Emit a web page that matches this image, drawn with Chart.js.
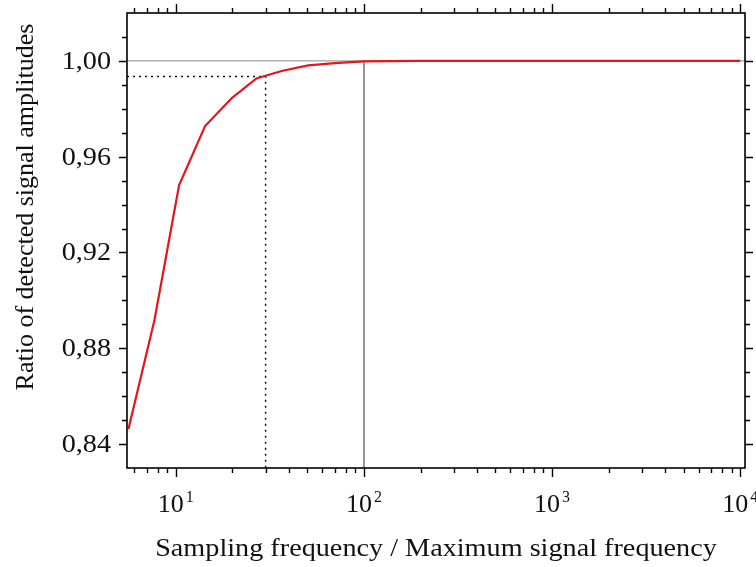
<!DOCTYPE html>
<html>
<head>
<meta charset="utf-8">
<script src="https://cdn.jsdelivr.net/npm/chart.js@4/dist/chart.umd.min.js"></script>
<style>
html,body{margin:0;padding:0;background:#fff;}
#wrap{width:756px;height:567px;}
</style>
</head>
<body>
<div id="wrap"><canvas id="c" width="756" height="567"></canvas></div>
<script>
// ---- data ----
const ratioX = [5.6, 7.7, 10.4, 14.3, 19.9, 26.8, 36.5, 50.5, 70, 100, 140, 200, 500, 1000, 2000, 5000, 10000];
const ratioY = [0.8463, 0.8918, 0.948, 0.9728, 0.9846, 0.9927, 0.9958, 0.9981, 0.9991, 0.9998, 0.9999, 1.0, 1.0, 1.0, 1.0, 1.0, 1.0];
const markX = 30;          // dotted marker
const markY = 0.9935;
const unityY = 1.0;        // grey reference level
const refX = 100;          // grey vertical reference
const xMin = 5.5, xMax = 10600;
const yMin = 0.83, yMax = 1.02;
const yMajorTicks = [0.84, 0.88, 0.92, 0.96, 1.00];
const yTickLabels = ['0,84', '0,88', '0,92', '0,96', '1,00'];
const xDecades = [1, 2, 3, 4];
const xTitle = 'Sampling frequency / Maximum signal frequency';
const yTitle = 'Ratio of detected signal amplitudes';

const FONT = "'Liberation Serif','Times New Roman',serif";
const SX = 1.085; // horizontal stretch of the reference's lettering

const curve = ratioX.map((x, i) => ({x: x, y: ratioY[i]}));
const unityLine = [{x: xMin, y: unityY}, {x: xMax, y: unityY}];
const refLine = [{x: refX, y: unityY}, {x: refX, y: yMin}];
const markLine = [{x: xMin, y: markY}, {x: markX, y: markY}, {x: markX, y: yMin}];

function stretchedText(ctx, text, x, y, align) {
  ctx.save();
  ctx.translate(x, y);
  ctx.scale(SX, 1);
  ctx.textAlign = align;
  ctx.fillText(text, 0, 0);
  ctx.restore();
}

const framePlugin = {
  id: 'frame',
  afterDraw(chart) {
    const ctx = chart.ctx;
    const xs = chart.scales.x, ys = chart.scales.y;
    const a = chart.chartArea;
    ctx.save();
    ctx.strokeStyle = '#000';
    ctx.lineWidth = 1.6;
    ctx.strokeRect(a.left, a.top, a.right - a.left, a.bottom - a.top);
    ctx.lineWidth = 1.4;
    ctx.beginPath();
    // x ticks (bottom & top)
    for (let d = 0; d <= 4; d++) {
      for (let m = 1; m <= 9; m++) {
        const v = m * Math.pow(10, d);
        if (v < xMin || v > xMax) continue;
        const px = Math.round(xs.getPixelForValue(v)) + 0.5;
        const len = (m === 1) ? 9 : 5;
        ctx.moveTo(px, a.bottom); ctx.lineTo(px, a.bottom + len);
        ctx.moveTo(px, a.top); ctx.lineTo(px, a.top - len);
      }
    }
    // y ticks (left & right)
    for (let k = 84; k <= 101; k++) {
      const v = k / 100;
      const py = Math.round(ys.getPixelForValue(v)) + 0.5;
      const len = (k % 4 === 0) ? 8 : 5;
      ctx.moveTo(a.left, py); ctx.lineTo(a.left - len, py);
      ctx.moveTo(a.right, py); ctx.lineTo(a.right + len, py);
    }
    ctx.stroke();
    // y tick labels
    ctx.fillStyle = '#111';
    ctx.font = '26px ' + FONT;
    ctx.textBaseline = 'middle';
    yMajorTicks.forEach((v, i) => {
      stretchedText(ctx, yTickLabels[i], a.left - 16, ys.getPixelForValue(v) + 1, 'right');
    });
    // x tick labels 10^n
    ctx.textBaseline = 'alphabetic';
    xDecades.forEach(n => {
      const px = xs.getPixelForValue(Math.pow(10, n));
      ctx.font = '26px ' + FONT;
      const w = ctx.measureText('10').width;
      ctx.font = '16px ' + FONT;
      const ws = ctx.measureText(String(n)).width;
      const total = w + 2 + ws;
      const x0 = px - total / 2;
      ctx.font = '26px ' + FONT;
      ctx.textAlign = 'left';
      ctx.fillText('10', x0, 512);
      ctx.font = '16px ' + FONT;
      ctx.fillText(String(n), x0 + w + 2, 502);
    });
    // axis titles
    ctx.font = '26px ' + FONT;
    ctx.textBaseline = 'middle';
    stretchedText(ctx, xTitle, (a.left + a.right) / 2, 549, 'center');
    ctx.save();
    ctx.translate(26, 207);
    ctx.rotate(-Math.PI / 2);
    ctx.textAlign = 'center';
    ctx.fillText(yTitle, 0, 0);
    ctx.restore();
    ctx.restore();
  }
};

new Chart(document.getElementById('c'), {
  type: 'line',
  data: {
    datasets: [
      {data: unityLine, borderColor: '#8a8a8a', borderWidth: 1, pointRadius: 0, order: 3},
      {data: refLine, borderColor: '#8a8a8a', borderWidth: 1, pointRadius: 0, order: 3},
      {data: markLine, borderColor: '#111', borderWidth: 1.5, borderDash: [2, 4], pointRadius: 0, order: 2},
      {data: curve, borderColor: '#e3161c', borderWidth: 2.2, pointRadius: 0, tension: 0, order: 1}
    ]
  },
  options: {
    responsive: false,
    animation: false,
    events: [],
    layout: {padding: {left: 127, right: 11, top: 13, bottom: 99}},
    plugins: {legend: {display: false}, tooltip: {enabled: false}},
    scales: {
      x: {type: 'logarithmic', min: xMin, max: xMax, display: false},
      y: {type: 'linear', min: yMin, max: yMax, display: false}
    }
  },
  plugins: [framePlugin]
});
</script>
</body>
</html>
